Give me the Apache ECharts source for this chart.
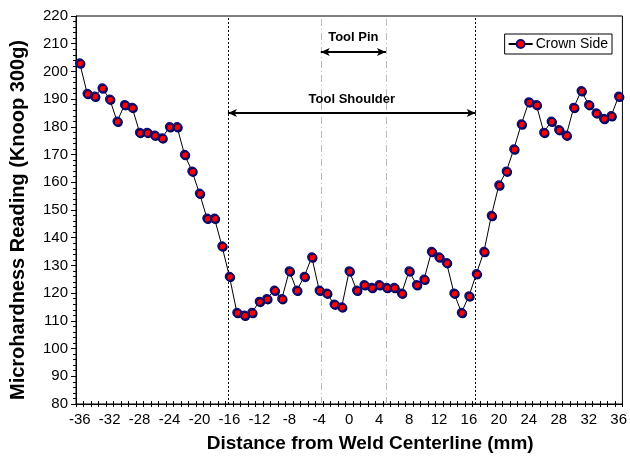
<!DOCTYPE html>
<html>
<head>
<meta charset="utf-8">
<script src="https://cdn.jsdelivr.net/npm/echarts@6/dist/echarts.min.js"></script>
<style>
  html, body { margin: 0; padding: 0; background: #fff; }
  #chart { width: 630px; height: 460px; }
</style>
</head>
<body>
<div id="chart"></div>
<script>
// distance from weld centerline (mm)
var distance = [-36, -35, -34, -33, -32, -31, -30, -29, -28, -27, -26, -25, -24, -23, -22, -21, -20, -19,
  -18, -17, -16, -15, -14, -13, -12, -11, -10, -9, -8, -7, -6, -5, -4, -3, -2, -1, 0,
  1, 2, 3, 4, 5, 6, 7, 8, 9, 10, 11, 12, 13, 14, 15, 16, 17, 18, 19, 20, 21, 22, 23,
  24, 25, 26, 27, 28, 29, 30, 31, 32, 33, 34, 35, 36];
// crown side microhardness (Knoop 300g)
var crownSide = [203, 192, 191, 194, 190, 182, 188, 187, 178, 178, 177, 176, 180, 180, 170, 164, 156, 147,
  147, 137, 126, 113, 112, 113, 117, 118, 121, 118, 128, 121, 126, 133, 121, 120, 116, 115, 128,
  121, 123, 122, 123, 122, 122, 120, 128, 123, 125, 135, 133, 131, 120, 113, 119, 127, 135, 148, 159,
  164, 172, 181, 189, 188, 178, 182, 179, 177, 187, 193, 188, 185, 183, 184, 191];
var xLabels = [-36, -32, -28, -24, -20, -16, -12, -8, -4, 0, 4, 8, 12, 16, 20, 24, 28, 32, 36];
var shoulderEdges = [-16.2, 16.9];
var pinEdges = [-3.8, 4.9];
var shoulderArrowY = 185;
var pinArrowY = 207;

var xMin = -36.5, xMax = 36.5;
var xTicks = [];
for (var t = xMin; t <= xMax + 0.001; t += 1) xTicks.push(t);

var font = "'Liberation Sans', Arial, sans-serif";
var points = distance.map(function (d, i) { return [d, crownSide[i]]; });

var chart = echarts.init(document.getElementById('chart'));
chart.setOption({
  animation: false,
  backgroundColor: '#fff',
  textStyle: {fontFamily: font},
  grid: {
    left: 75, right: 7, top: 16, bottom: 56,
    show: true, borderColor: '#000', borderWidth: 1
  },
  legend: {
    data: ['Crown Side'],
    right: 18, top: 34,
    borderColor: '#000', borderWidth: 1,
    padding: [3, 4, 3, 3],
    itemWidth: 24, itemHeight: 10, itemGap: 4,
    textStyle: {fontFamily: font, fontSize: 14, color: '#000', padding: [0, 0, 0, -2]}
  },
  xAxis: [
    {
      type: 'value', min: xMin, max: xMax,
      name: 'Distance from Weld Centerline (mm)',
      nameLocation: 'middle', nameGap: 30,
      nameTextStyle: {fontFamily: font, fontSize: 19, fontWeight: 'bold', color: '#000', padding: [0, 0, 0, 42]},
      axisLine: {onZero: false, lineStyle: {color: '#000', width: 1}},
      axisTick: {show: true, length: 3, customValues: xTicks, lineStyle: {color: '#000'}},
      axisLabel: {customValues: xLabels, margin: 8, fontSize: 15, color: '#000', fontFamily: font},
      splitLine: {show: false}
    },
    {
      type: 'value', min: xMin, max: xMax, position: 'bottom',
      axisLine: {show: false, onZero: false},
      axisTick: {show: true, inside: true, length: 3, customValues: xTicks, lineStyle: {color: '#000'}},
      axisLabel: {show: false},
      splitLine: {show: false}
    }
  ],
  yAxis: {
    type: 'value', min: 80, max: 220, interval: 10,
    name: 'Microhardness Reading (Knoop 300g)',
    nameLocation: 'middle', nameGap: 48,
    nameTextStyle: {fontFamily: font, fontSize: 20, fontWeight: 'bold', color: '#000', padding: [0, 20, 0, 0]},
    axisLine: {show: true, onZero: false, lineStyle: {color: '#000', width: 1}},
    axisTick: {show: true, length: 5, lineStyle: {color: '#000'}},
    minorTick: {show: true, splitNumber: 5, length: 3, lineStyle: {color: '#000'}},
    axisLabel: {margin: 8, fontSize: 15, color: '#000', fontFamily: font},
    splitLine: {show: false}
  },
  series: [{
    name: 'Crown Side',
    type: 'line',
    data: points,
    symbol: 'circle',
    symbolSize: 8,
    lineStyle: {color: '#000', width: 1},
    itemStyle: {
      color: '#ff0000', borderColor: '#10107a', borderWidth: 1.5,
      shadowColor: '#000050', shadowOffsetX: 1, shadowOffsetY: 1, shadowBlur: 0
    },
    z: 5,
    markLine: {
      silent: true,
      symbol: ['none', 'none'],
      precision: 2,
      label: {show: false},
      data: [
        {xAxis: shoulderEdges[0], lineStyle: {color: '#000', type: [2, 2], width: 1}},
        {xAxis: shoulderEdges[1], lineStyle: {color: '#000', type: [2, 2], width: 1}},
        {xAxis: pinEdges[0], lineStyle: {color: '#bbb', type: [7, 3, 1, 3], width: 1}},
        {xAxis: pinEdges[1], lineStyle: {color: '#bbb', type: [7, 3, 1, 3], width: 1}},
        [
          {coord: [shoulderEdges[0], shoulderArrowY], symbol: 'arrow', symbolSize: [6, 9],
            lineStyle: {color: '#000', type: 'solid', width: 2},
            label: {show: true, formatter: 'Tool Shoulder', position: 'insideMiddleTop', distance: 7,
              fontFamily: font, fontSize: 13, fontWeight: 'bold', color: '#000'}},
          {coord: [shoulderEdges[1], shoulderArrowY], symbol: 'arrow', symbolSize: [6, 9]}
        ],
        [
          {coord: [pinEdges[0], pinArrowY], symbol: 'arrow', symbolSize: [6, 9],
            lineStyle: {color: '#000', type: 'solid', width: 2},
            label: {show: true, formatter: 'Tool Pin', position: 'insideMiddleTop', distance: 8,
              fontFamily: font, fontSize: 13, fontWeight: 'bold', color: '#000'}},
          {coord: [pinEdges[1], pinArrowY], symbol: 'arrow', symbolSize: [6, 9]}
        ]
      ]
    }
  }]
});
</script>
</body>
</html>
